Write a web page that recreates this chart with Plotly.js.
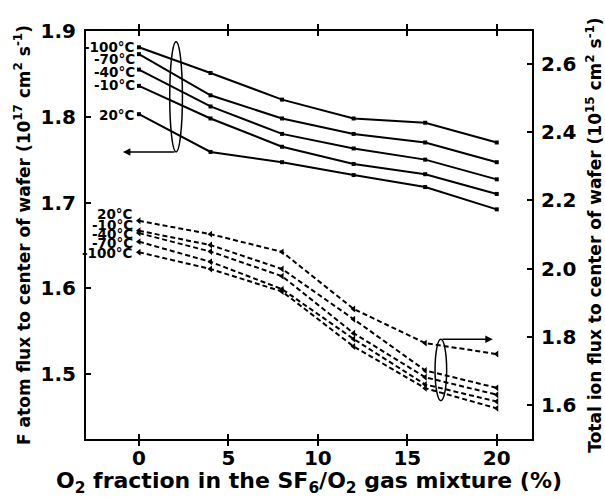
<!DOCTYPE html>
<html>
<head>
<meta charset="utf-8">
<script src="https://cdn.plot.ly/plotly-3.0.1.min.js"></script>
<style>html,body{margin:0;padding:0;background:#fff;}#chart{width:605px;height:497px;}</style>
</head>
<body>
<div id="chart"></div>
<script>
// O2 fraction (%)
const o2Fraction = [0, 4, 8, 12, 16, 20];
// F atom flux (1e17 cm^-2 s^-1), left axis
const fluxF_m100 = [1.881, 1.851, 1.820, 1.798, 1.793, 1.770];
const fluxF_m70  = [1.873, 1.825, 1.798, 1.780, 1.770, 1.747];
const fluxF_m40  = [1.855, 1.812, 1.780, 1.763, 1.750, 1.727];
const fluxF_m10  = [1.836, 1.798, 1.765, 1.745, 1.733, 1.710];
const fluxF_20   = [1.803, 1.759, 1.747, 1.732, 1.718, 1.692];
// Total ion flux (1e15 cm^-2 s^-1), right axis
const ion_20   = [2.140, 2.101, 2.049, 1.882, 1.782, 1.750];
const ion_m10  = [2.111, 2.069, 1.999, 1.852, 1.702, 1.651];
const ion_m40  = [2.104, 2.050, 1.978, 1.811, 1.682, 1.631];
const ion_m70  = [2.079, 2.020, 1.940, 1.794, 1.661, 1.611];
const ion_m100 = [2.048, 1.999, 1.933, 1.772, 1.650, 1.591];
const tempLabels = ['-100°C', '-70°C', '-40°C', '-10°C', '20°C'];

const FONT = 'DejaVu Sans, Arial, sans-serif';
const fSeries = [fluxF_m100, fluxF_m70, fluxF_m40, fluxF_m10, fluxF_20];
const iSeries = [ion_m100, ion_m70, ion_m40, ion_m10, ion_20];

const traces = [];
fSeries.forEach((ys, k) => traces.push({
  x: o2Fraction, y: ys, type: 'scatter', mode: 'lines+markers', name: 'F ' + tempLabels[k],
  line: {color: '#000', width: 2}, marker: {symbol: 'square', size: 4, color: '#000'},
  xaxis: 'x', yaxis: 'y', showlegend: false
}));
iSeries.forEach((ys, k) => traces.push({
  x: o2Fraction, y: ys, type: 'scatter', mode: 'lines+markers', name: 'ion ' + tempLabels[k],
  line: {color: '#000', width: 2, dash: '5px,3px'}, marker: {symbol: 'triangle-left', size: 6, color: '#000'},
  xaxis: 'x', yaxis: 'y2', showlegend: false
}));

const annotations = [];
const lblF = {'-100°C': 1.881, '-70°C': 1.867, '-40°C': 1.852, '-10°C': 1.837, '20°C': 1.802};
Object.keys(lblF).forEach(t => annotations.push({
  x: -0.12, y: lblF[t], xref: 'x', yref: 'y', text: t, showarrow: false, xanchor: 'right', yanchor: 'middle',
  font: {family: FONT, size: 13.5, color: '#000', weight: 'bold'}
}));
const lblI = {'20°C': 2.160, '-10°C': 2.128, '-40°C': 2.100, '-70°C': 2.074, '-100°C': 2.045};
Object.keys(lblI).forEach(t => annotations.push({
  x: -0.2, y: lblI[t], xref: 'x', yref: 'y2', text: t, showarrow: false, xanchor: 'right', yanchor: 'middle',
  font: {family: FONT, size: 13.5, color: '#000', weight: 'bold'}
}));
annotations.push({x: -0.9, y: 1.759, xref: 'x', yref: 'y', ax: 2.07, ay: 1.759, axref: 'x', ayref: 'y',
  text: '', showarrow: true, arrowhead: 2, arrowsize: 1, arrowwidth: 1.5, arrowcolor: '#000'});
annotations.push({x: 19.78, y: 1.793, xref: 'x', yref: 'y2', ax: 16.88, ay: 1.793, axref: 'x', ayref: 'y2',
  text: '', showarrow: true, arrowhead: 2, arrowsize: 1, arrowwidth: 1.5, arrowcolor: '#000'});

const shapes = [
  {type: 'circle', xref: 'x', yref: 'y', x0: 1.72, x1: 2.43, y0: 1.759, y1: 1.8875, line: {color: '#000', width: 1.5}},
  {type: 'circle', xref: 'x', yref: 'y2', x0: 16.55, x1: 17.2, y0: 1.6135, y1: 1.793, line: {color: '#000', width: 1.5}}
];

const tickFont = {family: FONT, size: 20, color: '#000', weight: 'bold'};
const layout = {
  width: 605, height: 497,
  margin: {l: 86, r: 73, t: 31, b: 58},
  paper_bgcolor: '#fff', plot_bgcolor: '#fff',
  showlegend: false,
  xaxis: {
    range: [-2.96, 21.97], dtick: 5, tick0: 0, showgrid: false, zeroline: false,
    showline: true, linecolor: '#000', linewidth: 2, mirror: 'allticks',
    ticks: 'inside', ticklen: 5, tickwidth: 2, tickcolor: '#000', tickfont: tickFont,
    ticklabelstandoff: 0,
    title: {text: 'O<sub>2</sub> fraction in the SF<sub>6</sub>/O<sub>2</sub> gas mixture (%)',
      font: {family: FONT, size: 22, color: '#000', weight: 'bold'}, standoff: 4}
  },
  yaxis: {
    range: [1.4242, 1.9], dtick: 0.1, tick0: 1.5, tickformat: '.1f', showgrid: false, zeroline: false,
    showline: true, linecolor: '#000', linewidth: 2,
    ticks: 'inside', ticklen: 5, tickwidth: 2, tickcolor: '#000', tickfont: tickFont,
    ticklabelstandoff: 4,
    title: {text: 'F atom flux to center of wafer (10<sup>17</sup> cm<sup>2</sup> s<sup>-1</sup>)',
      font: {family: FONT, size: 17, color: '#000', weight: 'bold'}, standoff: 6}
  },
  yaxis2: {
    range: [1.5013, 2.6957], dtick: 0.2, tick0: 1.6, tickformat: '.1f', overlaying: 'y', side: 'right',
    showgrid: false, zeroline: false, showline: true, linecolor: '#000', linewidth: 2,
    ticks: 'inside', ticklen: 5, tickwidth: 2, tickcolor: '#000', tickfont: tickFont,
    ticklabelstandoff: 3,
    title: {text: 'Total ion flux to center of wafer (10<sup>15</sup> cm<sup>2</sup> s<sup>-1</sup>)',
      font: {family: FONT, size: 17, color: '#000', weight: 'bold'}, standoff: 14}
  },
  annotations: annotations,
  shapes: shapes
};
Plotly.newPlot('chart', traces, layout, {displayModeBar: false, staticPlot: true});
</script>
</body>
</html>
